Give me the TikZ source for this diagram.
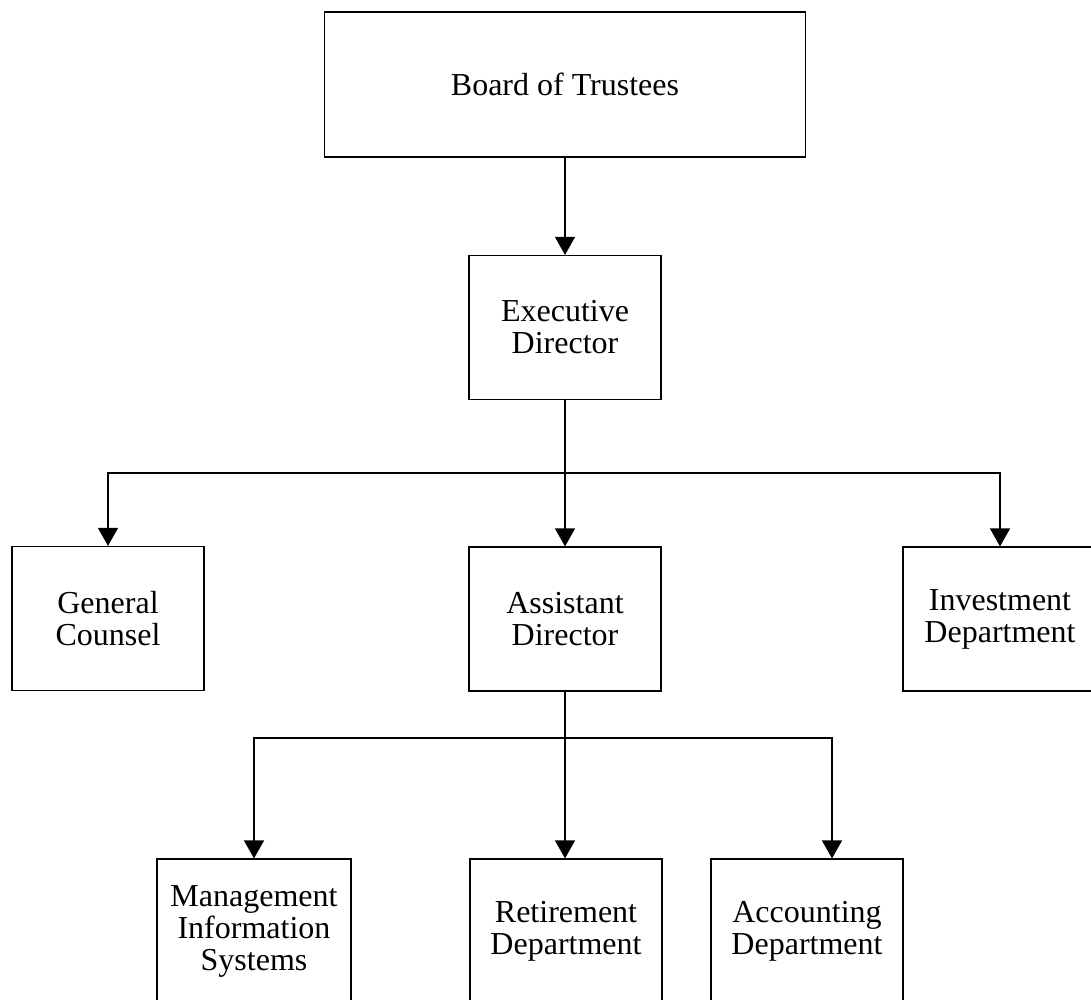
\documentclass[tikz,border=0pt]{standalone}
\usepackage{fontspec}
\setmainfont{Liberation Serif}
\usetikzlibrary{arrows.meta}
\begin{document}
\begin{tikzpicture}[x=1pt,y=-1pt,
  box/.style={draw,line width=1.2pt,inner sep=0pt,align=center,
    minimum width=192pt,minimum height=144pt,
    font=\fontsize{32}{32}\selectfont},
  link/.style={line width=1.2pt},
  arr/.style={line width=1.2pt,-{Triangle[width=20pt,length=18pt]}}]
\useasboundingbox (0,0) rectangle (1091,1000);
\clip (0,0) rectangle (1091,1000);
\node[box,minimum width=481pt,minimum height=145pt] (board) at (565,84.5) {Board of Trustees};
\node[box] (exec) at (565,327.5) {Executive\\Director};
\node[box] (gc) at (108,618.5) {General\\Counsel};
\node[box] (asst) at (565,619) {Assistant\\Director};
\node[box,minimum width=194pt] (inv) at (1000,619) {Investment\\Department};
\node[box,minimum width=194pt,minimum height=145pt] (mis) at (254,931.5) {Management\\Information\\Systems};
\node[box,minimum height=145pt] (ret) at (566,931.5) {Retirement\\Department};
\node[box,minimum height=145pt] (acc) at (807,931.5) {Accounting\\Department};
\coordinate (j1) at (565,473);
\coordinate (j2) at (565,738);
\draw[arr] (board.south) -- (exec.north);
\draw[link] (exec.south) -- (j1);
\draw[arr] (j1) -| (gc.north);
\draw[arr] (j1) -- (asst.north);
\draw[arr] (j1) -| (inv.north);
\draw[link] (asst.south) -- (j2);
\draw[arr] (j2) -| (mis.north);
\draw[arr] (j2) -- (j2 |- ret.north);
\draw[arr] (j2) -| ([xshift=25pt]acc.north);
\end{tikzpicture}
\end{document}
